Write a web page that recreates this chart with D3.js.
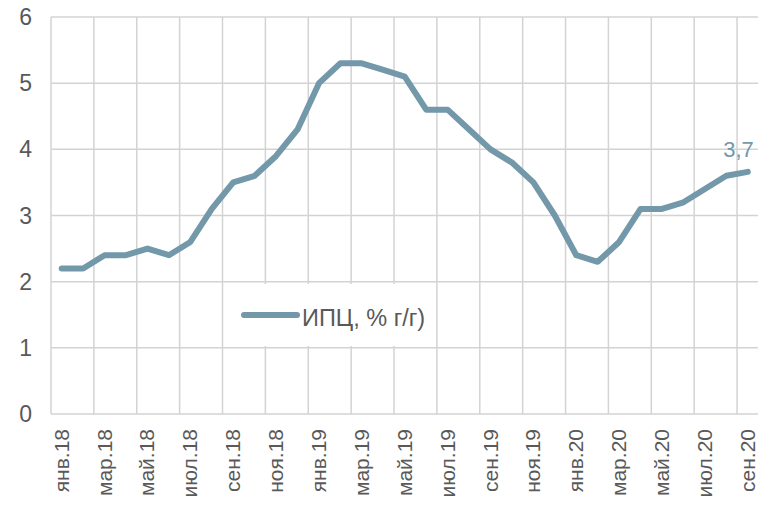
<!DOCTYPE html>
<html><head><meta charset="utf-8">
<script src="https://cdn.jsdelivr.net/npm/d3@7"></script>
<style>body{margin:0;background:#fff}svg{display:block}</style>
</head><body>
<svg id="c" width="758" height="506"></svg>
<script>
const months = ["янв","фев","мар","апр","май","июн","июл","авг","сен","окт","ноя","дек"];
const years = ["18","19","20"];
const categories = [];
years.forEach(y => months.forEach(m => categories.push(m + "." + y)));
categories.splice(33);
const cpi = [2.2,2.2,2.4,2.4,2.5,2.4,2.6,3.1,3.5,3.6,3.9,4.3,
             5.0,5.3,5.3,5.2,5.1,4.6,4.6,4.3,4.0,3.8,3.5,3.0,
             2.4,2.3,2.6,3.1,3.1,3.2,3.4,3.6,3.66];
const yTicks = [0,1,2,3,4,5,6];
const seriesName = "ИПЦ, % г/г)";
const lastLabel = "3,7";

const svg = d3.select("#c");
const x = d3.scaleBand().domain(categories).range([51, 758.5]);
const y = d3.scaleLinear().domain([0,6]).range([414, 17]);
const cx = d => x(d) + x.bandwidth()/2;
const col = "#7398aa";
const font = "Liberation Sans, Arial, sans-serif";

const grid = svg.append("g").attr("stroke","#d3d3d3").attr("stroke-width",1.5);
yTicks.forEach(t => grid.append("line").attr("x1",51).attr("x2",758).attr("y1",y(t)).attr("y2",y(t)));
categories.forEach((c,i) => { if (i%2===0) grid.append("line").attr("x1",x(c)).attr("x2",x(c)).attr("y1",y(6)).attr("y2",y(0)); });

svg.append("g").selectAll("text").data(yTicks).join("text")
  .attr("x",32).attr("y",d=>y(d)+8).attr("text-anchor","end")
  .attr("font-family",font).attr("font-size",23).attr("fill","#595959")
  .text(d=>d);

svg.append("g").selectAll("text").data(categories.filter((c,i)=>i%2===0)).join("text")
  .attr("transform",d=>`translate(${cx(d)+7},429) rotate(-90)`)
  .attr("text-anchor","end")
  .attr("font-family",font).attr("font-size",21).attr("fill","#595959")
  .text(d=>d);

svg.append("rect").attr("x",232).attr("y",284).attr("width",203).attr("height",62).attr("fill","#fff");
svg.append("line").attr("x1",244).attr("x2",297).attr("y1",315).attr("y2",315)
  .attr("stroke",col).attr("stroke-width",6).attr("stroke-linecap","round");
svg.append("text").attr("x",302).attr("y",326)
  .attr("font-family",font).attr("font-size",23.5).attr("fill","#595959")
  .text(seriesName);

const line = d3.line().x((d,i)=>cx(categories[i])).y(d=>y(d));
svg.append("path").datum(cpi).attr("d",line).attr("fill","none")
  .attr("stroke",col).attr("stroke-width",6).attr("stroke-linejoin","round").attr("stroke-linecap","round");

svg.append("text").attr("x",cx(categories[32])+6).attr("y",157).attr("text-anchor","end")
  .attr("font-family",font).attr("font-size",22).attr("fill",col)
  .text(lastLabel);
</script>
</body></html>
